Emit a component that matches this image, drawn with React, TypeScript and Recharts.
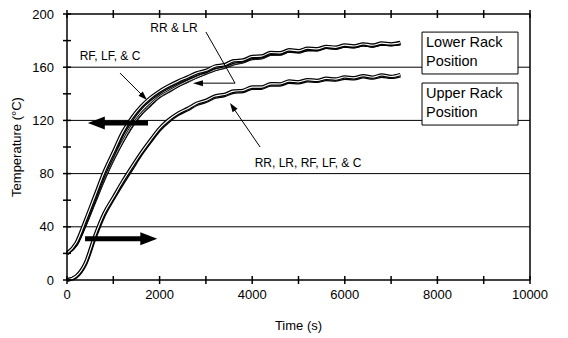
import React from 'react';
import {
  LineChart,
  Line,
  XAxis,
  YAxis,
  CartesianGrid,
  ReferenceLine,
  ReferenceArea,
  ReferenceDot,
} from 'recharts';

// time in seconds
const time = [0, 200, 400, 600, 800, 1000, 1200, 1400, 1600, 1800, 2000, 2200, 2400, 2600, 2800, 3000, 3200, 3400, 3600, 3800, 4000, 4200, 4400, 4600, 4800, 5000, 5200, 5400, 5600, 5800, 6000, 6200, 6400, 6600, 6800, 7000, 7200];

// lower rack position (left axis)
const lowerRF = [20, 28, 45, 63, 81, 96, 111, 122, 130.5, 137, 142, 146, 149.5, 152.5, 155.7, 157.5, 160.8, 161.8, 164.8, 165.3, 168, 168.3, 171, 170.8, 173, 172.3, 174.2, 173.8, 175.6, 174.9, 176.6, 175.9, 177.5, 176.5, 178.1, 177.4, 178.5];
const lowerC = [20, 27, 43, 61, 79, 94, 109.5, 120.5, 129.5, 135.8, 141, 145, 148.6, 151.6, 154.8, 156.8, 159.9, 161.2, 164, 164.8, 167.3, 167.9, 170.4, 170.4, 172.4, 172, 173.6, 173.5, 175, 174.6, 176, 175.6, 177, 176.2, 177.5, 177.1, 177.9];
const lowerRR = [20, 27, 42, 59, 76, 91, 104, 116, 125, 132, 138, 142, 146, 149.5, 152.5, 155.5, 158, 160, 162.5, 164, 166.5, 167, 169.7, 169.8, 172, 171.5, 173, 173, 174.8, 174.2, 175.8, 175.2, 176.8, 175.8, 177.3, 176.8, 177.6];
const lowerLR = [20, 26, 41, 58, 75, 90, 103.5, 115, 124.5, 131.2, 137.5, 141.5, 145.8, 149, 152.3, 155, 157.8, 159.6, 162.2, 163.6, 166.2, 166.6, 169.3, 169.3, 171.7, 171.1, 172.8, 172.6, 174.5, 173.8, 175.5, 174.9, 176.5, 175.6, 177, 176.5, 177.3];

// upper rack position (right axis, drawn on the left scale)
const upperRF = [0, 3, 13, 33, 50, 62, 74, 85, 95.5, 105, 114, 120.5, 125.4, 128.8, 132.8, 135, 138.3, 139.5, 142, 142.5, 145, 145, 147.5, 147.4, 149.5, 149, 150.6, 150, 151.6, 151, 152.6, 152, 153.6, 152.5, 154.1, 153, 154.4];
const upperRR = [0, 2.5, 12, 31.5, 48.5, 61, 72.5, 83.5, 94.5, 104, 113, 119.5, 124.6, 128, 132, 134.3, 137.5, 138.8, 141.2, 141.8, 144.2, 144.3, 146.7, 146.7, 148.7, 148.4, 149.8, 149.4, 150.8, 150.4, 151.8, 151.4, 152.8, 151.9, 153.3, 152.5, 153.6];

const xTicks = [0, 1000, 2000, 3000, 4000, 5000, 6000, 7000, 8000, 9000, 10000];
const leftTicks = [0, 20, 40, 60, 80, 100, 120, 140, 160, 180, 200];
const rightTicks = [20, 40, 60, 80, 100, 120, 140, 160, 180, 200, 220];
const gridTicks = [40, 80, 120, 160];

const data = time.map((t, i) => ({
  t,
  lowerRF: lowerRF[i],
  lowerC: lowerC[i],
  lowerRR: lowerRR[i],
  lowerLR: lowerLR[i],
  upperRF: upperRF[i],
  upperRR: upperRR[i],
}));

const FONT = '"Liberation Sans", Arial, Helvetica, sans-serif';
const TS = 4;
const M = 9;

const LeftTick = (p: any) => {
  const v = p.payload.value;
  const ax = p.x + TS + M;
  return (
    <g>
      <line x1={ax} x2={ax + TS} y1={p.y} y2={p.y} stroke="#000" strokeWidth={1.5} />
      {v % 40 === 0 && (
        <text x={p.x} y={p.y} dy="0.35em" textAnchor="end" fontSize={13} fill="#000" fontFamily={FONT}>
          {v}
        </text>
      )}
    </g>
  );
};

const RightTick = (p: any) => {
  const v = p.payload.value;
  const ax = p.x - TS - M;
  return (
    <g>
      <line x1={ax} x2={ax - TS} y1={p.y} y2={p.y} stroke="#000" strokeWidth={1.5} />
      {(v - 20) % 40 === 0 && (
        <text x={p.x} y={p.y} dy="0.35em" textAnchor="start" fontSize={13} fill="#000" fontFamily={FONT}>
          {v}
        </text>
      )}
    </g>
  );
};

const BottomTick = (p: any) => {
  const v = p.payload.value;
  const ay = p.y - TS - 6;
  return (
    <g>
      <line x1={p.x} x2={p.x} y1={ay} y2={ay - TS} stroke="#000" strokeWidth={1.5} />
      {v % 2000 === 0 && (
        <text x={p.x} y={p.y} dy="0.71em" textAnchor="middle" fontSize={13} fill="#000" fontFamily={FONT}>
          {v}
        </text>
      )}
    </g>
  );
};

const TopTick = (p: any) => {
  const ay = p.y + TS + 2;
  return <line x1={p.x} x2={p.x} y1={ay} y2={ay + TS} stroke="#000" strokeWidth={1.5} />;
};

const arrowShape = (w: number, headLen: number, headHalf: number, head: boolean) => (p: any) => {
  const { x1, y1, x2, y2 } = p;
  const dx = x2 - x1;
  const dy = y2 - y1;
  const len = Math.hypot(dx, dy) || 1;
  const ux = dx / len;
  const uy = dy / len;
  const bx = x2 - ux * headLen;
  const by = y2 - uy * headLen;
  const nx = -uy;
  const ny = ux;
  return (
    <g>
      <line x1={x1} y1={y1} x2={head ? bx + ux : x2} y2={head ? by + uy : y2} stroke="#000" strokeWidth={w} />
      {head && (
        <polygon
          points={`${x2},${y2} ${bx + nx * headHalf},${by + ny * headHalf} ${bx - nx * headHalf},${by - ny * headHalf}`}
          fill="#000"
        />
      )}
    </g>
  );
};

const boxLabel = (lines: string[]) => (p: any) => {
  const vb = p.viewBox || {};
  return (
    <g>
      {lines.map((s, i) => (
        <text key={s} x={vb.x + 4} y={vb.y + 15 + i * 19} fontSize={14.5} fill="#000" fontFamily={FONT}>
          {s}
        </text>
      ))}
    </g>
  );
};

// grid rows only at 40, 80, 120, 160 on the left scale
const gridRows = (g: any) => {
  const sc = g?.yAxis?.scale;
  if (typeof sc === 'function') return gridTicks.map((v) => sc(v));
  if (sc && typeof sc.map === 'function') return gridTicks.map((v) => sc.map(v));
  const o = g.offset;
  return gridTicks.map((v) => o.top + o.height * (1 - v / 200));
};

const seriesKeys: { key: string; thin: boolean }[] = [
  { key: 'upperRR', thin: false },
  { key: 'upperRF', thin: false },
  { key: 'lowerLR', thin: true },
  { key: 'lowerRR', thin: true },
  { key: 'lowerC', thin: false },
  { key: 'lowerRF', thin: false },
];

const ax = { xAxisId: 'b', yAxisId: 'l' };

export default function App() {
  const lines: React.ReactNode[] = [];
  seriesKeys.forEach(({ key, thin }) => {
    lines.push(
      <Line
        key={key + '-b'}
        {...ax}
        type="monotone"
        dataKey={key}
        stroke="#000"
        strokeWidth={thin ? 2.4 : 3.6}
        dot={false}
        activeDot={false}
        isAnimationActive={false}
      />
    );
    lines.push(
      <Line
        key={key + '-w'}
        {...ax}
        type="monotone"
        dataKey={key}
        stroke="#fff"
        strokeWidth={thin ? 0.8 : 1.1}
        dot={false}
        activeDot={false}
        isAnimationActive={false}
      />
    );
  });

  return (
    <div style={{ position: 'absolute', left: 0, top: 0, width: 568, height: 338, background: '#fff', fontFamily: FONT }}>
      <LineChart width={568} height={338} data={data} margin={{ top: 10, right: 0, bottom: 0, left: 0 }}>
        <CartesianGrid
          xAxisId="b"
          yAxisId="l"
          vertical={false}
          stroke="#000"
          strokeWidth={1}
          horizontalCoordinatesGenerator={gridRows}
        />
        <XAxis
          xAxisId="b"
          dataKey="t"
          type="number"
          domain={[0, 10000]}
          ticks={xTicks}
          interval={0}
          height={58}
          tickSize={TS}
          tickMargin={6}
          axisLine={{ stroke: '#000', strokeWidth: 1.5 }}
          tickLine={{ stroke: '#000', strokeWidth: 1.5 }}
          tick={BottomTick}
          label={{ value: 'Time (s)', position: 'insideBottom', offset: 8, fontSize: 13, fill: '#000', fontFamily: FONT }}
        />
        <XAxis
          xAxisId="top"
          orientation="top"
          dataKey="t"
          type="number"
          domain={[0, 10000]}
          ticks={xTicks}
          interval={0}
          height={4}
          tickSize={TS}
          tickMargin={2}
          axisLine={{ stroke: '#000', strokeWidth: 1.5 }}
          tickLine={{ stroke: '#000', strokeWidth: 1.5 }}
          tick={TopTick}
        />
        <YAxis
          yAxisId="l"
          domain={[0, 200]}
          ticks={leftTicks}
          interval={0}
          width={67}
          tickSize={TS}
          tickMargin={M}
          axisLine={{ stroke: '#000', strokeWidth: 1.5 }}
          tickLine={{ stroke: '#000', strokeWidth: 1.5 }}
          tick={LeftTick}
          label={{ value: 'Temperature (°C)', angle: -90, position: 'center', dx: -17, fontSize: 13, fill: '#000', fontFamily: FONT }}
        />
        <YAxis
          yAxisId="r"
          orientation="right"
          domain={[20, 220]}
          ticks={rightTicks}
          interval={0}
          width={38}
          tickSize={TS}
          tickMargin={M}
          axisLine={{ stroke: '#000', strokeWidth: 1.5 }}
          tickLine={{ stroke: '#000', strokeWidth: 1.5 }}
          tick={RightTick}
        />
        {lines}
        <ReferenceArea
          {...ax}
          x1={7668}
          x2={9741}
          y1={154.9}
          y2={186.4}
          fill="#fff"
          fillOpacity={1}
          stroke="#000"
          strokeWidth={1}
          label={boxLabel(['Lower Rack', 'Position'])}
        />
        <ReferenceArea
          {...ax}
          x1={7668}
          x2={9741}
          y1={116.5}
          y2={148.1}
          fill="#fff"
          fillOpacity={1}
          stroke="#000"
          strokeWidth={1}
          label={boxLabel(['Upper Rack', 'Position'])}
        />
        <ReferenceLine {...ax} segment={[{ x: 1750, y: 118 }, { x: 450, y: 118 }]} shape={arrowShape(5, 17, 6.5, true)} />
        <ReferenceLine {...ax} segment={[{ x: 390, y: 31 }, { x: 1950, y: 31 }]} shape={arrowShape(5, 17, 6.5, true)} />
        <ReferenceLine {...ax} segment={[{ x: 3000, y: 186.5 }, { x: 3630, y: 148 }]} shape={arrowShape(1, 0, 0, false)} />
        <ReferenceLine {...ax} segment={[{ x: 3630, y: 148 }, { x: 2720, y: 148 }]} shape={arrowShape(1, 10, 3, true)} />
        <ReferenceLine {...ax} segment={[{ x: 1145, y: 155.6 }, { x: 1728, y: 135.3 }]} shape={arrowShape(1, 9, 3, true)} />
        <ReferenceLine {...ax} segment={[{ x: 4170, y: 100 }, { x: 3520, y: 133 }]} shape={arrowShape(1, 9, 3, true)} />
        <ReferenceDot {...ax} x={2311} y={189.5} r={0} fill="none" stroke="none" label={{ value: 'RR & LR', position: 'center', fontSize: 12, fill: '#000', fontFamily: FONT }} />
        <ReferenceDot {...ax} x={929} y={168.4} r={0} fill="none" stroke="none" label={{ value: 'RF, LF, & C', position: 'center', fontSize: 12, fill: '#000', fontFamily: FONT }} />
        <ReferenceDot {...ax} x={5205} y={88} r={0} fill="none" stroke="none" label={{ value: 'RR, LR, RF, LF, & C', position: 'center', fontSize: 12, fill: '#000', fontFamily: FONT }} />
      </LineChart>
    </div>
  );
}
